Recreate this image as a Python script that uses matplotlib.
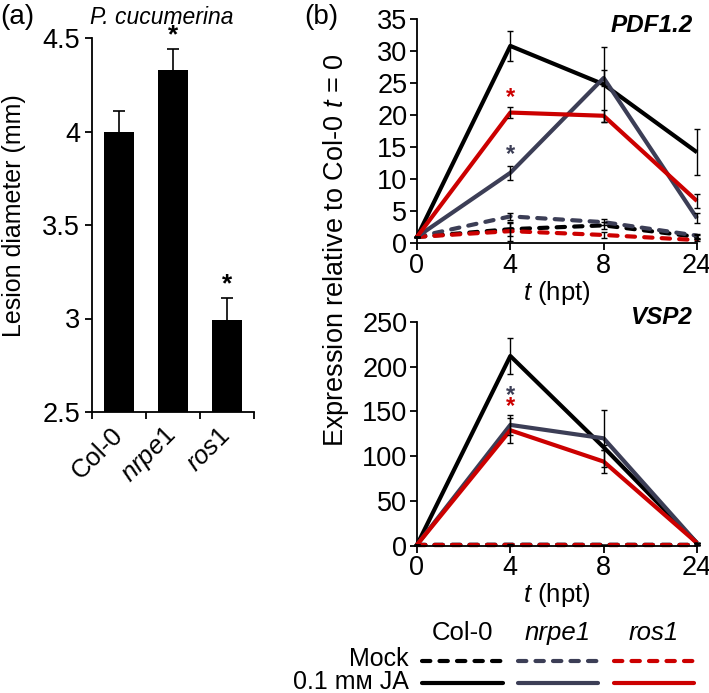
import matplotlib
matplotlib.use('Agg')
import matplotlib.pyplot as plt
from matplotlib.lines import Line2D

plt.rcParams['font.family'] = ['Liberation Sans', 'DejaVu Sans']
plt.rcParams['mathtext.fontset'] = 'custom'
plt.rcParams['mathtext.rm'] = 'Liberation Sans'
plt.rcParams['mathtext.it'] = 'Liberation Sans:italic'

# ---- data ----
genotypes = ['Col-0', 'nrpe1', 'ros1']
lesion = [4.0, 4.33, 2.99]
lesion_err = [0.11, 0.11, 0.12]
lesion_sig = [False, True, True]

times = ['0', '4', '8', '24']

# PDF1.2
pdf_ja = {
    'Col-0': [1.0, 30.8, 24.8, 14.2],
    'nrpe1': [1.0, 11.0, 25.8, 3.9],
    'ros1': [1.0, 20.4, 19.9, 6.6],
}
pdf_ja_err = {
    'Col-0': [0.0, 2.4, 5.8, 3.6],
    'nrpe1': [0.0, 1.1, 1.3, 0.8],
    'ros1': [0.0, 0.9, 0.9, 1.1],
}
pdf_mock = {
    'Col-0': [1.0, 2.2, 2.8, 1.0],
    'nrpe1': [1.0, 4.2, 3.3, 1.2],
    'ros1': [1.0, 1.9, 1.3, 0.5],
}
pdf_mock_err = {
    'Col-0': [0.0, 1.0, 0.6, 0.3],
    'nrpe1': [0.0, 0.6, 0.5, 0.3],
    'ros1': [0.0, 1.5, 0.5, 0.2],
}

# VSP2
vsp_ja = {
    'Col-0': [1.0, 212.0, 110.0, 3.0],
    'nrpe1': [1.0, 135.0, 120.0, 3.0],
    'ros1': [1.0, 129.0, 94.0, 3.0],
}
vsp_ja_err = {
    'Col-0': [0.0, 20.0, 3.0, 0.5],
    'nrpe1': [0.0, 11.0, 32.0, 0.5],
    'ros1': [0.0, 14.0, 13.0, 0.5],
}
vsp_mock = {
    'Col-0': [1.0, 1.0, 1.0, 1.0],
    'nrpe1': [1.0, 1.2, 1.1, 1.0],
    'ros1': [1.0, 1.0, 1.0, 1.0],
}
vsp_mock_err = {
    'Col-0': [0.0, 0.2, 0.2, 0.1],
    'nrpe1': [0.0, 0.2, 0.2, 0.1],
    'ros1': [0.0, 0.2, 0.2, 0.1],
}

# significance stars (genotype, time index, y position)
pdf_stars = [('ros1', 1, 22.8), ('nrpe1', 1, 13.8)]
vsp_stars = [('nrpe1', 1, 168), ('ros1', 1, 155)]

colors = {'Col-0': '#000000', 'nrpe1': '#3c3e56', 'ros1': '#cc0000'}
dash = (0, (2.0, 2.2))

W, H = 709, 693


def fx(px):
    return px / W


def fy(py):
    return 1 - py / H


fig = plt.figure(figsize=(W / 100, H / 100), dpi=100)

# ---- (a) lesion bars ----
ax = fig.add_axes([fx(92), fy(412), (254 - 92) / W, (412 - 38) / H])
xs = range(len(genotypes))
ax.bar(xs, [v - 2.5 for v in lesion], bottom=2.5, width=0.56, color='black',
       yerr=lesion_err, capsize=4, error_kw=dict(elinewidth=1.2, capthick=1.2))
for x, v, e, s in zip(xs, lesion, lesion_err, lesion_sig):
    if s:
        ax.text(x, v + e + 0.01, '*', ha='center', va='bottom', fontsize=19,
                fontweight='bold', clip_on=False)
ax.set_xlim(-0.5, 2.5)
ax.set_ylim(2.5, 4.5)
ax.set_yticks([2.5, 3, 3.5, 4, 4.5])
ax.set_yticklabels(['2.5', '3', '3.5', '4', '4.5'])
ax.set_xticks([-0.5, 0.5, 1.5, 2.5])
ax.set_xticklabels([])
ax.set_xticks(list(xs), minor=True)
ax.set_xticklabels(['Col-0', '$\\it{nrpe1}$', '$\\it{ros1}$'], minor=True,
                   rotation=45, ha='right', va='center', rotation_mode='anchor', fontsize=18.5)
ax.tick_params(axis='x', which='minor', length=0, pad=14)
ax.tick_params(axis='both', which='major', direction='out', length=5, width=1.3, labelsize=19.5)
for sp in ['top', 'right']:
    ax.spines[sp].set_visible(False)
for sp in ['left', 'bottom']:
    ax.spines[sp].set_linewidth(1.3)

fig.text(fx(14), fy(216), 'Lesion diameter (mm)', rotation=90, fontsize=18,
         ha='center', va='center')
fig.text(fx(0), fy(17), '(a)', fontsize=20, ha='left', va='center')
fig.text(fx(162), fy(17), 'P. cucumerina', fontsize=16.5, style='italic', ha='center', va='center')
fig.text(fx(304), fy(17), '(b)', fontsize=20, ha='left', va='center')


def line_panel(ax, mock, mock_err, ja, ja_err, stars, ymax, ystep, gene, gene_y):
    pos = list(range(len(times)))
    for g in genotypes:
        ax.plot(pos, mock[g], color=colors[g], lw=3, linestyle=dash,
                dash_capstyle='round', clip_on=False, zorder=2)
    for g in genotypes:
        ax.plot(pos, ja[g], color=colors[g], lw=3, clip_on=False, zorder=3,
                solid_capstyle='butt')
    for g in genotypes:
        ax.errorbar(pos, mock[g], yerr=mock_err[g], fmt='none', ecolor='black',
                    elinewidth=1, capsize=2.5, capthick=1, clip_on=False, zorder=4)
        ax.errorbar(pos, ja[g], yerr=ja_err[g], fmt='none', ecolor='black',
                    elinewidth=1, capsize=2.5, capthick=1, clip_on=False, zorder=4)
    for g, i, y in stars:
        ax.text(pos[i], y, '*', color=colors[g], ha='center', va='center',
                fontsize=17, fontweight='bold', clip_on=False)
    ax.set_xlim(0, 3)
    ax.set_ylim(0, ymax)
    ax.set_yticks(range(0, ymax + 1, ystep))
    ax.set_xticks(pos)
    ax.set_xticklabels(times)
    ax.tick_params(axis='both', direction='out', length=5, width=1.3, labelsize=19.5)
    ax.tick_params(axis='x', pad=2)
    ax.tick_params(axis='y', pad=2)
    for sp in ['top', 'right']:
        ax.spines[sp].set_visible(False)
    for sp in ['left', 'bottom']:
        ax.spines[sp].set_linewidth(1.3)
    ax.set_xlabel('$t$ (hpt)', fontsize=18.5, labelpad=0)
    ax.text(0.985, gene_y, gene, transform=ax.transAxes, ha='right', va='center',
            fontsize=17.5, fontweight='bold', style='italic')


ax1 = fig.add_axes([fx(417), fy(243.3), (697 - 417) / W, (243.3 - 19) / H])
line_panel(ax1, pdf_mock, pdf_mock_err, pdf_ja, pdf_ja_err, pdf_stars, 35, 5, 'PDF1.2', 0.97)

ax2 = fig.add_axes([fx(417), fy(545.7), (697 - 417) / W, (545.7 - 322) / H])
line_panel(ax2, vsp_mock, vsp_mock_err, vsp_ja, vsp_ja_err, vsp_stars, 250, 50, 'VSP2', 1.02)

fig.text(fx(336), fy(250), 'Expression relative to Col-0 $t$ = 0', rotation=90,
         fontsize=19.5, ha='center', va='center')

# ---- legend ----
col_x = [(420, 505), (516, 600), (612, 696)]
names = ['Col-0', 'nrpe1', 'ros1']
for (x0, x1), g, n in zip(col_x, genotypes, names):
    fig.text(fx((x0 + x1) / 2), fy(633), n, fontsize=18.5, ha='center', va='center',
             style='normal' if g == 'Col-0' else 'italic')
    fig.add_artist(Line2D([fx(x0 + 2), fx(x1 - 2)], [fy(661), fy(661)], color=colors[g],
                          lw=3, linestyle=dash, dash_capstyle='round'))
    fig.add_artist(Line2D([fx(x0 + 2), fx(x1 - 2)], [fy(683), fy(683)], color=colors[g],
                          lw=3, solid_capstyle='round'))
fig.text(fx(409), fy(659), 'Mock', fontsize=18, ha='right', va='center')
fig.text(fx(409), fy(682), '0.1 m\u1d0d JA', fontsize=18, ha='right', va='center')

fig.savefig('out.png', dpi=100)
